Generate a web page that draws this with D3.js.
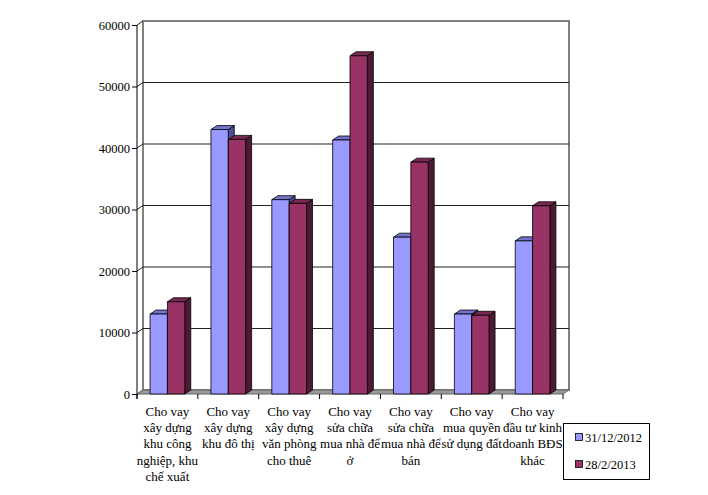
<!DOCTYPE html>
<html><head><meta charset="utf-8">
<script src="https://cdn.jsdelivr.net/npm/d3@7"></script>
<style>body{margin:0;background:#fff}svg{display:block}</style>
</head><body><svg id="c" width="708" height="495"></svg>
<script>
const categories = [
  "Cho vay\nxây dựng\nkhu công\nnghiệp, khu\nchế xuất",
  "Cho vay\nxây dựng\nkhu đô thị",
  "Cho vay\nxây dựng\nvăn phòng\ncho thuê",
  "Cho vay\nsửa chữa\nmua nhà để\nở",
  "Cho vay\nsửa chữa\nmua nhà để\nbán",
  "Cho vay\nmua quyền\nsử dụng đất",
  "Cho vay\nđầu tư kinh\ndoanh BĐS\nkhác"
];
const seriesNames = ["31/12/2012", "28/2/2013"];
const values2012 = [13000, 43000, 31600, 41300, 25500, 13000, 24900];
const values2013 = [15000, 41400, 31000, 55000, 37700, 12800, 30600];
const yTicks = [0, 10000, 20000, 30000, 40000, 50000, 60000];

const FONT = "'Liberation Serif', 'Times New Roman', Tinos, 'DejaVu Serif', serif";
const svg = d3.select("#c");
const L = 137, R = 563, B = 394, T = 25, DX = 6, DY = -4;
const y = d3.scaleLinear().domain([0, 60000]).range([B, T]);
const x = d3.scaleBand().domain(d3.range(categories.length)).range([L, R]).paddingInner(0).paddingOuter(0);
const xs = d3.scaleBand().domain([0, 1]).range([0.215, 0.785]).paddingInner(0);
const colors = [
  {front: "#9999ff", top: "#7373cc", side: "#4d4d99"},
  {front: "#993366", top: "#7a2952", side: "#4d1a33"}
];
const series = [values2012, values2013];

// back wall
svg.append("rect").attr("x", L + DX).attr("y", T + DY).attr("width", R - L).attr("height", B - T)
  .attr("fill", "#fff").attr("stroke", "#808080").attr("stroke-width", 2);
// gridlines
const g = svg.append("g");
yTicks.forEach(t => {
  if (t > 0 && t < 60000) {
    g.append("line").attr("x1", L + DX).attr("x2", R + DX).attr("y1", y(t) + DY).attr("y2", y(t) + DY)
      .attr("stroke", "#222").attr("stroke-width", 1);
  }
  g.append("line").attr("x1", L).attr("x2", L + DX).attr("y1", y(t)).attr("y2", y(t) + DY)
    .attr("stroke", "#222").attr("stroke-width", 1);
});
// floor
svg.append("path").attr("d", `M${L},${B}L${R},${B}L${R + DX},${B + DY}L${L + DX},${B + DY}Z`)
  .attr("fill", "#999").attr("stroke", "#666").attr("stroke-width", 1);

// bars
categories.forEach((c, i) => {
  const bw = x.bandwidth();
  series.forEach((vals, s) => {
    const x0 = x(i) + xs(s) * bw, x1 = x0 + xs.bandwidth() * bw;
    const yt = y(vals[i]), yb = y(0);
    const col = colors[s];
    const bg = svg.append("g").attr("stroke", "#000").attr("stroke-width", 0.8).attr("stroke-linejoin", "round");
    bg.append("path").attr("d", `M${x1},${yb}L${x1 + DX},${yb + DY}L${x1 + DX},${yt + DY}L${x1},${yt}Z`).attr("fill", col.side);
    bg.append("path").attr("d", `M${x0},${yt}L${x0 + DX},${yt + DY}L${x1 + DX},${yt + DY}L${x1},${yt}Z`).attr("fill", col.top);
    bg.append("rect").attr("x", x0).attr("y", yt).attr("width", x1 - x0).attr("height", yb - yt).attr("fill", col.front);
  });
});

// y axis
const ya = svg.append("g").attr("transform", `translate(${L},0)`)
  .call(d3.axisLeft(y).tickValues(yTicks).tickSize(5).tickPadding(2).tickFormat(d3.format("d")));
ya.attr("font-family", FONT).attr("font-size", 12.5);
ya.select(".domain").remove();
ya.selectAll("line").attr("stroke", "#000");
ya.selectAll("text").attr("fill", "#000");
svg.append("line").attr("x1", L).attr("x2", L).attr("y1", T).attr("y2", B + 5).attr("stroke", "#000");

// x ticks
d3.range(categories.length + 1).forEach(k => {
  const xx = L + k * x.bandwidth();
  svg.append("line").attr("x1", xx).attr("x2", xx).attr("y1", B).attr("y2", B + 5).attr("stroke", "#000");
});
// x labels
categories.forEach((c, i) => {
  const t = svg.append("text").attr("text-anchor", "middle").attr("font-family", FONT).attr("font-size", 13);
  c.split("\n").forEach((ln, j) => {
    t.append("tspan").attr("x", x(i) + x.bandwidth() / 2).attr("y", 416 + j * 16.2).text(ln);
  });
});

// legend
const lg = svg.append("g");
lg.append("rect").attr("x", 563.5).attr("y", 423.5).attr("width", 86).attr("height", 56)
  .attr("fill", "#fff").attr("stroke", "#000").attr("stroke-width", 1);
seriesNames.forEach((n, s) => {
  const cy = 437 + s * 27;
  lg.append("rect").attr("x", 575.5).attr("y", cy - 3.5).attr("width", 7).attr("height", 7)
    .attr("fill", colors[s].front).attr("stroke", "#000").attr("stroke-width", 0.8);
  lg.append("text").attr("x", 585).attr("y", cy + 4.5).attr("font-family", FONT).attr("font-size", 12.5).text(n);
});
</script></body></html>
